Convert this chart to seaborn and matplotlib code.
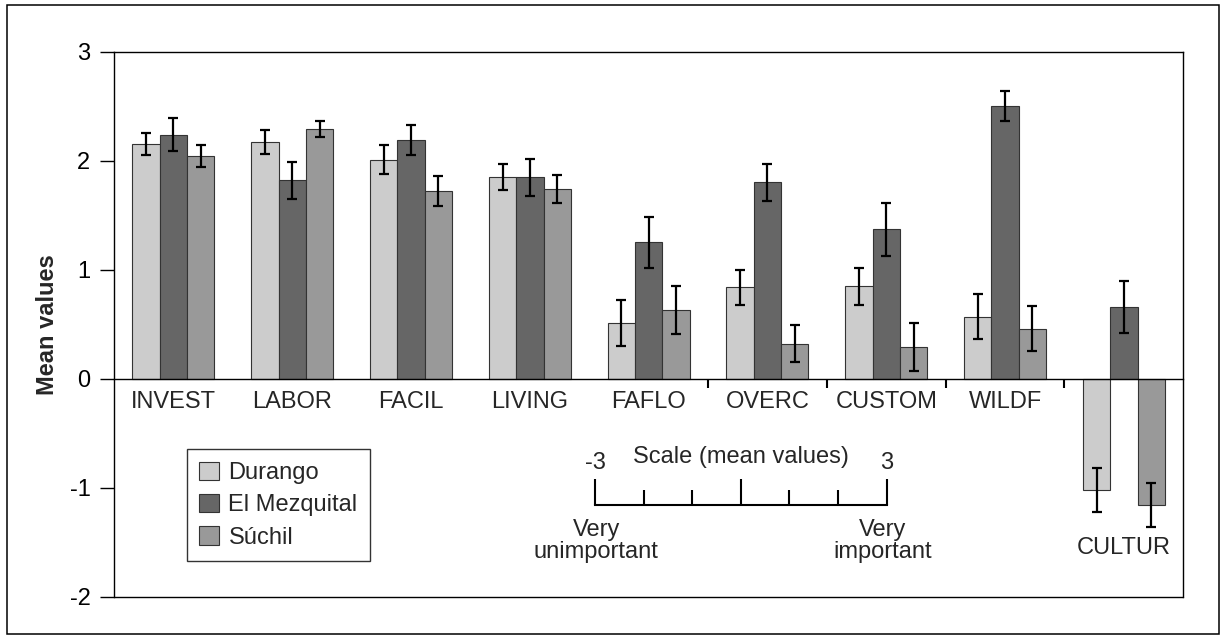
import numpy as np
import pandas as pd
import matplotlib
matplotlib.use("Agg")
import matplotlib.pyplot as plt
import matplotlib.patches as mpatches
import seaborn as sns

# Motive categories and the three municipalities compared
categories = ["INVEST", "LABOR", "FACIL", "LIVING", "FAFLO", "OVERC", "CUSTOM", "WILDF", "CULTUR"]
sites = ["Durango", "El Mezquital", "Súchil"]

# Mean importance scores per category
durango_mean = [2.15, 2.17, 2.01, 1.85, 0.51, 0.84, 0.85, 0.57, -1.02]
mezquital_mean = [2.24, 1.82, 2.19, 1.85, 1.25, 1.80, 1.37, 2.50, 0.66]
suchil_mean = [2.04, 2.29, 1.72, 1.74, 0.63, 0.32, 0.29, 0.46, -1.16]

# Standard errors of the means
durango_err = [0.10, 0.11, 0.13, 0.12, 0.21, 0.16, 0.17, 0.21, 0.20]
mezquital_err = [0.15, 0.17, 0.14, 0.17, 0.23, 0.17, 0.24, 0.14, 0.24]
suchil_err = [0.10, 0.07, 0.14, 0.13, 0.22, 0.17, 0.22, 0.21, 0.20]

y_ticks = [-2, -1, 0, 1, 2, 3]
scale_ticks_major = [-3, 0, 3]
scale_ticks_minor = [-2, -1, 1, 2]

colors = {"Durango": "#cccccc", "El Mezquital": "#666666", "Súchil": "#999999"}

means = {"Durango": durango_mean, "El Mezquital": mezquital_mean, "Súchil": suchil_mean}
errs = {"Durango": durango_err, "El Mezquital": mezquital_err, "Súchil": suchil_err}

df = pd.DataFrame(
    [(c, s, means[s][i]) for s in sites for i, c in enumerate(categories)],
    columns=["category", "site", "value"],
)

sns.set_style("ticks")
plt.rcParams["font.family"] = ["Liberation Sans", "DejaVu Sans"]
plt.rcParams["axes.linewidth"] = 1.0

W, H = 1221, 637
fig = plt.figure(figsize=(W / 100, H / 100), dpi=100)

def fx(px):
    return px / W

def fy(py):
    return 1 - py / H

ax = fig.add_axes([fx(114), fy(596.7), fx(1183.3) - fx(114), fy(51.7) - fy(596.7)])

sns.barplot(
    data=df, x="category", y="value", hue="site",
    order=categories, hue_order=sites, palette=colors,
    width=0.69, saturation=1, errorbar=None, legend=False,
    edgecolor="#333333", linewidth=0.8, ax=ax,
)

# Error bars at each bar's centre
for site, container in zip(sites, ax.containers):
    xs, ys = [], []
    for bar in container:
        xs.append(bar.get_x() + bar.get_width() / 2)
        ys.append(bar.get_y() + bar.get_height())
    ax.errorbar(xs, ys, yerr=errs[site], fmt="none", ecolor="black",
                elinewidth=1.6, capsize=3.3, capthick=1.6, zorder=5)

ax.set_xlim(-0.5, len(categories) - 0.5)
ax.set_ylim(-2, 3)
ax.set_yticks(y_ticks)
ax.set_yticklabels([str(t) for t in y_ticks], fontsize=17)
ax.tick_params(axis="y", direction="out", length=10, width=1.0, pad=7, colors="black")

# Category names under the zero line; the last one sits below its negative bars
ax.spines["bottom"].set_position(("data", 0))
ax.set_xticks(range(len(categories)))
ax.set_xticklabels(categories[:-1] + [""], fontsize=17)
ax.tick_params(axis="x", which="major", length=0, pad=9)
ax.set_xticks([4.5, 5.5, 6.5, 7.5], minor=True)
ax.tick_params(axis="x", which="minor", direction="out", length=6.7, width=1.5, color="black")
ax.text(len(categories) - 1, -1.55, categories[-1], ha="center", va="center", fontsize=17)

ax.axhline(-2, color="black", lw=1.0, clip_on=False, zorder=6)
for side in ["top", "right", "left", "bottom"]:
    ax.spines[side].set_color("black")
    ax.spines[side].set_visible(True)
ax.spines["bottom"].set_zorder(6)

ax.set_xlabel("")
ax.set_ylabel("Mean values", fontsize=17, fontweight="bold")
ax.yaxis.set_label_coords(-0.051, 0.5)

# Legend
handles = [mpatches.Patch(facecolor=colors[s], edgecolor="#333333", linewidth=0.8, label=s) for s in sites]
leg = fig.legend(
    handles=handles, loc="upper left", bbox_to_anchor=(fx(186.7), fy(449.3)),
    fontsize=17, frameon=True, fancybox=False, edgecolor="black",
    handlelength=0.83, handleheight=0.83, handletextpad=0.42,
    labelspacing=0.42, borderpad=0.52, borderaxespad=0,
)
leg.get_frame().set_linewidth(1.0)

# Scale key
ax2 = fig.add_axes([fx(595), fy(505), fx(886.7) - fx(595), fy(479) - fy(505)])
ax2.set_xlim(-3, 3)
ax2.set_ylim(0, 1)
ax2.patch.set_visible(False)
for side in ["top", "right", "left"]:
    ax2.spines[side].set_visible(False)
ax2.spines["bottom"].set_linewidth(1.5)
ax2.spines["bottom"].set_color("black")
ax2.set_yticks([])
ax2.set_xticks(scale_ticks_major)
ax2.set_xticks(scale_ticks_minor, minor=True)
ax2.tick_params(axis="x", which="major", direction="in", length=18.5, width=1.5,
                color="black", labelbottom=False)
ax2.tick_params(axis="x", which="minor", direction="in", length=10.8, width=1.5,
                color="black", labelbottom=False)
ax2.annotate(str(scale_ticks_major[0]), xy=(-3, 0), xytext=(0, 30.2), textcoords="offset points",
             ha="center", va="center", fontsize=17)
ax2.annotate(str(scale_ticks_major[-1]), xy=(3, 0), xytext=(0, 30.2), textcoords="offset points",
             ha="center", va="center", fontsize=17)
ax2.annotate("Scale (mean values)", xy=(0, 0), xytext=(0, 34.8), textcoords="offset points",
             ha="center", va="center", fontsize=17)
ax2.annotate("Very\nunimportant", xy=(-3, 0), xytext=(1, -26), textcoords="offset points",
             ha="center", va="center", fontsize=17, linespacing=0.97)
ax2.annotate("Very\nimportant", xy=(3, 0), xytext=(-3, -26), textcoords="offset points",
             ha="center", va="center", fontsize=17, linespacing=0.97)

# Outer frame
fig.add_artist(mpatches.Rectangle((fx(7), fy(634)), fx(1219) - fx(7), fy(5) - fy(634),
                                  transform=fig.transFigure, fill=False,
                                  edgecolor="black", linewidth=1.1))

fig.savefig("out.png", dpi=100)
